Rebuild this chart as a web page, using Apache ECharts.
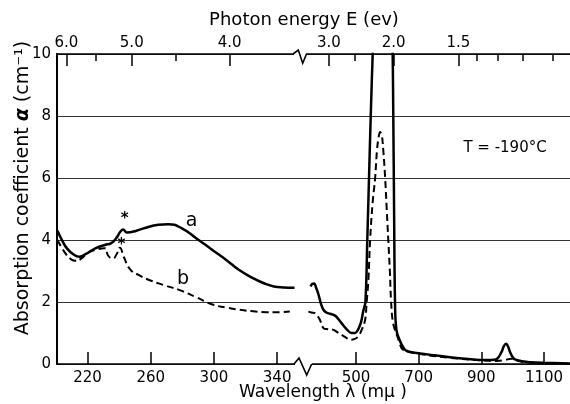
<!DOCTYPE html>
<html><head><meta charset="utf-8">
<script src="https://cdn.jsdelivr.net/npm/echarts@6/dist/echarts.min.js"></script>
<style>html,body{margin:0;padding:0;background:#fff}#c{width:570px;height:404px}</style>
</head><body><div id="c"></div>
<script>
// ---------- data (wavelength in mμ, absorption coefficient in cm^-1) ----------
const wlLeftA = [201,204,207,211,215,219,225,231,235,238,241,242.5,245,251,259,265,271,280,289,299,308,316,325,331,338,344,351];
const aLeft   = [4.30,3.98,3.73,3.54,3.46,3.55,3.73,3.84,3.90,4.05,4.28,4.34,4.24,4.30,4.43,4.49,4.51,4.37,4.05,3.68,3.35,3.03,2.76,2.62,2.50,2.47,2.46];

const wlLeftB = [201,205,209,212,216,220,225,231,233,236,238.5,240.5,243,247,252,259,268,278,289,299,308,316,325,333,341,348];
const bLeft   = [4.00,3.65,3.40,3.33,3.40,3.58,3.68,3.73,3.50,3.40,3.55,3.75,3.45,3.05,2.88,2.71,2.55,2.39,2.15,1.92,1.82,1.75,1.70,1.67,1.67,1.69];

const wlRightA = [355,360,366,373,380,388,396,405,417,433,446,459,472,486,497,507,516,523,530,536,541.5,547,555,565,590,608,616,619,621.5,624.5,629,640,652,662,699,750,800,850,896,930,949,965,972,979,986,991,1000,1007,1030,1055,1100,1183];
const aRight   = [2.50,2.58,2.60,2.45,2.25,1.95,1.75,1.66,1.62,1.56,1.42,1.25,1.10,1.00,1.00,1.12,1.35,1.70,2.00,4.00,6.00,8.00,10.5,13.0,14.0,13.0,10.5,8.00,5.00,2.00,1.10,0.75,0.52,0.42,0.35,0.28,0.22,0.17,0.13,0.13,0.16,0.40,0.58,0.65,0.55,0.40,0.22,0.15,0.09,0.06,0.04,0.02];

const wlRightB = [348,358,369,377,385,396,410,428,441,454,467,481,494,507,518,529,534,539.5,545,553,561,567,572,577,582,587,593,598,603,608,612,617,624,630,640,650,700,800,900,950,975,995,1010,1040,1100,1183];
const bRight   = [1.69,1.66,1.64,1.55,1.42,1.16,1.12,1.10,1.02,0.94,0.86,0.78,0.80,0.89,1.10,1.42,2.00,2.70,4.00,5.20,6.00,6.90,7.30,7.48,7.40,6.90,6.00,5.00,4.00,3.00,2.00,1.40,1.10,0.95,0.65,0.46,0.33,0.20,0.12,0.10,0.13,0.17,0.12,0.06,0.03,0.01];

// ---------- tick labels ----------
const bottomTicksLeft  = [220,260,300,340];
const bottomTicksRight = [500,700,900,1100];
const energyMajorLeft  = [6.0,5.0,4.0];
const energyMinorLeft  = [5.5,4.5];
const energyMajorRight = [3.0,2.0,1.5];
const energyMinorRight = [2.5,1.4,1.3,1.2,1.1];
const yTicks = [0,2,4,6,8,10];

const HC = 1240; // E(eV) = 1240 / λ(nm)
const FONT = 'DejaVu Sans';
const BLACK = '#000';

function pairs(xs, ys){ return xs.map((x,i)=>[x,ys[i]]); }

function xBottom(gridIndex, min, max, ticks){
  return {type:'value', gridIndex, position:'bottom', min, max,
    axisLine:{show:true, onZero:false, lineStyle:{color:BLACK, width:1.6}},
    axisTick:{show:true, inside:true, length:12, customValues:ticks, lineStyle:{color:BLACK, width:1.5}},
    axisLabel:{show:true, customValues:ticks, formatter:v=>String(Math.round(v)), margin:7, fontFamily:FONT, fontSize:15, color:BLACK},
    splitLine:{show:false}};
}
function xTop(gridIndex, min, max, energies, major){
  const vals = energies.map(e=>HC/e);
  return {type:'value', gridIndex, position:'top', min, max,
    axisLine:{show:major, onZero:false, lineStyle:{color:BLACK, width:1.6}},
    axisTick:{show:true, inside:true, length: major?12:7, customValues:vals, lineStyle:{color:BLACK, width:1.5}},
    axisLabel:{show:major, customValues:vals, formatter:v=>(HC/v).toFixed(1), margin:3, fontFamily:FONT, fontSize:15, color:BLACK},
    splitLine:{show:false}};
}
function yAx(gridIndex, visible){
  return {type:'value', gridIndex, min:0, max:10, interval:2,
    axisLine:{show:visible, onZero:false, lineStyle:{color:BLACK, width:2}},
    axisTick:{show:false},
    axisLabel:{show:visible, margin:6, fontFamily:FONT, fontSize:15, color:BLACK, customValues:yTicks},
    splitLine:{show:true, lineStyle:{color:'#333', width:1}}};
}
function mp(items){
  return {symbol:'circle', symbolSize:1, silent:true, animation:false,
    itemStyle:{color:'rgba(0,0,0,0)'},
    label:{show:true, position:'inside', color:BLACK, fontFamily:FONT},
    data: items.map(it=>({coord:it.c, label:{formatter:it.t, fontSize:it.s, fontWeight:it.w||'normal'}}))};
}

const LMIN=200.7, LMAX=357.0, RMIN=334, RMAX=1183;
const chart = echarts.init(document.getElementById('c'));
chart.setOption({
  animation:false,
  backgroundColor:'#fff',
  grid:[
    {left:57, top:54, width:247, height:310},
    {left:304, top:54, width:266, height:310}
  ],
  xAxis:[
    xBottom(0, LMIN, LMAX, bottomTicksLeft),
    xTop(0, LMIN, LMAX, energyMajorLeft, true),
    xTop(0, LMIN, LMAX, energyMinorLeft, false),
    xBottom(1, RMIN, RMAX, bottomTicksRight),
    xTop(1, RMIN, RMAX, energyMajorRight, true),
    xTop(1, RMIN, RMAX, energyMinorRight, false)
  ],
  yAxis:[ yAx(0,true), yAx(1,false) ],
  series:[
    {type:'line', xAxisIndex:0, yAxisIndex:0, data:pairs(wlLeftA,aLeft), showSymbol:false, smooth:0.5,
      lineStyle:{color:BLACK, width:2.5}, z:3,
      markPoint: mp([{c:[285.8,4.62], t:'a', s:19}, {c:[243.6,4.67], t:'*', s:15, w:'bold'}])},
    {type:'line', xAxisIndex:0, yAxisIndex:0, data:pairs(wlLeftB,bLeft), showSymbol:false, smooth:0.5,
      lineStyle:{color:BLACK, width:2, type:[7,4]}, z:3,
      markPoint: mp([{c:[280.5,2.75], t:'b', s:19}, {c:[241.5,3.83], t:'*', s:15, w:'bold'}])},
    {type:'line', xAxisIndex:3, yAxisIndex:1, data:pairs(wlRightA,aRight), showSymbol:false, smooth:0.4,
      lineStyle:{color:BLACK, width:2.5}, z:3,
      markPoint: mp([{c:[975.6,6.95], t:'T = -190°C', s:15}])},
    {type:'line', xAxisIndex:3, yAxisIndex:1, data:pairs(wlRightB,bRight), showSymbol:false, smooth:0.4,
      lineStyle:{color:BLACK, width:2, type:[7,4]}, z:3}
  ],
  graphic:[
    {type:'rect', shape:{x:294, y:51, width:12, height:6}, style:{fill:'#fff'}, z:100},
    {type:'polyline', shape:{points:[[293,54],[298.3,50],[302.7,63.3],[306.5,54]]}, style:{stroke:BLACK, lineWidth:1.6, fill:null}, z:101},
    {type:'rect', shape:{x:295, y:361, width:17, height:6}, style:{fill:'#fff'}, z:100},
    {type:'polyline', shape:{points:[[294,364],[299,358],[306.7,375],[311.7,364]]}, style:{stroke:BLACK, lineWidth:1.6, fill:null}, z:101},
    {type:'text', x:304, y:20, z:101, style:{text:'Photon energy E (ev)', font:'18px "DejaVu Sans"', fill:BLACK, textAlign:'center', textVerticalAlign:'middle'}},
    {type:'text', x:323, y:393, z:101, style:{text:'Wavelength λ (mμ )', font:'17px "DejaVu Sans"', fill:BLACK, textAlign:'center', textVerticalAlign:'middle'}},
    {type:'text', x:23, y:188, rotation:Math.PI/2, z:101, style:{
      text:'{n|Absorption coefficient }{g|α}{n| (cm⁻¹)}',
      textAlign:'center', textVerticalAlign:'middle',
      rich:{ n:{fontFamily:FONT, fontSize:19, fill:BLACK, color:BLACK},
             g:{fontFamily:FONT, fontSize:19, fontWeight:'bold', fontStyle:'italic', fill:BLACK, color:BLACK} } }}
  ]
});
</script></body></html>
